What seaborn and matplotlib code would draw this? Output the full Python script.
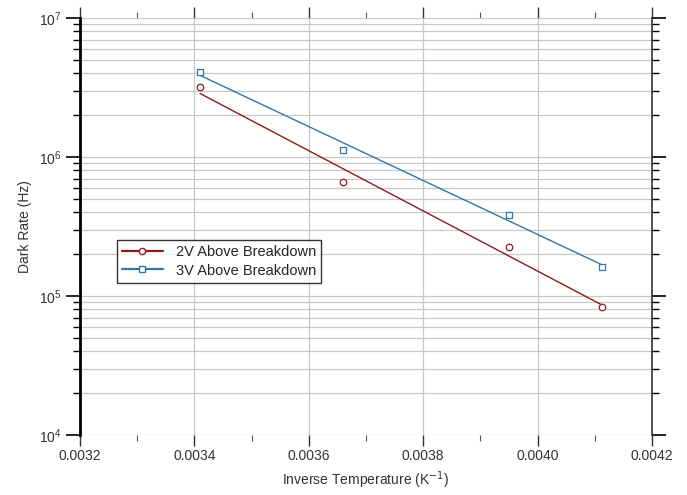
import numpy as np
import pandas as pd
import matplotlib
matplotlib.use("Agg")
import matplotlib.pyplot as plt
import seaborn as sns
from matplotlib.lines import Line2D
from matplotlib.ticker import LogLocator, MultipleLocator, FormatStrFormatter

# Datos
inv_temp = [0.003410, 0.003660, 0.003950, 0.004113]
rate_2v = [3.19e6, 6.6e5, 2.25e5, 8.3e4]
rate_3v = [4.09e6, 1.12e6, 3.83e5, 1.62e5]
labels = ["2V Above Breakdown", "3V Above Breakdown"]
colores = ["#8e1b1b", "#2f78a8"]
marcadores = ["o", "s"]

sns.set_style("white")
plt.rcParams["font.family"] = ["Liberation Sans", "DejaVu Sans"]

fig = plt.figure(figsize=(6.87, 4.95), dpi=100)
ax = fig.add_axes([0.1164, 0.1212, 0.949 - 0.1164, 0.9636 - 0.1212])

handles = []
for rate, lab, col, mk in zip([rate_2v, rate_3v], labels, colores, marcadores):
    df = pd.DataFrame({"x": inv_temp, "y": rate})
    # ajuste exponencial (recta en escala log)
    p = np.polyfit(df["x"], np.log10(df["y"]), 1)
    xf = np.linspace(min(inv_temp), max(inv_temp), 50)
    fit = pd.DataFrame({"x": xf, "y": 10 ** np.polyval(p, xf)})
    sns.lineplot(data=fit, x="x", y="y", color=col, lw=1.0, ax=ax)
    sns.scatterplot(data=df, x="x", y="y", marker=mk, s=22, facecolor="white",
                    edgecolor=col, linewidth=0.9, ax=ax, zorder=3)
    handles.append(Line2D([], [], color=col, lw=1.6, marker=mk, markersize=4.5,
                          markerfacecolor="white", markeredgecolor=col))

ax.set_yscale("log")
ax.set_xlim(0.0032, 0.0042)
ax.set_ylim(1e4, 1e7)

ax.xaxis.set_major_locator(MultipleLocator(0.0002))
ax.xaxis.set_minor_locator(MultipleLocator(0.0001))
ax.xaxis.set_major_formatter(FormatStrFormatter("%.4f"))
ax.yaxis.set_major_locator(LogLocator(base=10, numticks=10))
ax.yaxis.set_minor_locator(LogLocator(base=10, subs=np.arange(2, 10), numticks=20))

ax.grid(True, which="major", axis="x", color="#c8c8c8", lw=0.9)
ax.grid(True, which="both", axis="y", color="#c8c8c8", lw=0.9)

# Bordes estilo Igor
ax.spines["top"].set_visible(False)
ax.spines["bottom"].set_visible(False)
ax.spines["left"].set_color("black")
ax.spines["left"].set_linewidth(2.0)
ax.spines["right"].set_color("#333333")
ax.spines["right"].set_linewidth(1.2)

ax.tick_params(axis="x", which="major", direction="out", length=8, width=1,
               color="#333333", top=True, bottom=True, labelsize=10,
               labelcolor="#333333", pad=2)
ax.tick_params(axis="x", which="minor", direction="out", length=4, width=0.8,
               color="#555555", top=True, bottom=True)
ax.tick_params(axis="y", which="major", direction="out", length=10, width=1.2,
               color="black", left=True, right=True, labelsize=10,
               labelcolor="#333333")
ax.tick_params(axis="y", which="minor", direction="out", length=5, width=1.0,
               color="black", left=True, right=True)

ax.set_xlabel("Inverse Temperature (K$^{-1}$)", fontsize=10, color="#333333",
              labelpad=5)
ax.set_ylabel("Dark Rate (Hz)", fontsize=10, color="#333333", labelpad=5)

leg = ax.legend(handles, labels, loc="upper left", bbox_to_anchor=(0.0647, 0.4676),
                fontsize=10.5, frameon=True, fancybox=False, handlelength=2.8,
                borderpad=0.35, labelspacing=0.3, handletextpad=0.9,
                borderaxespad=0, numpoints=1)
leg.get_frame().set_edgecolor("black")
leg.get_frame().set_linewidth(1.0)

plt.savefig("out.png", dpi=100)
